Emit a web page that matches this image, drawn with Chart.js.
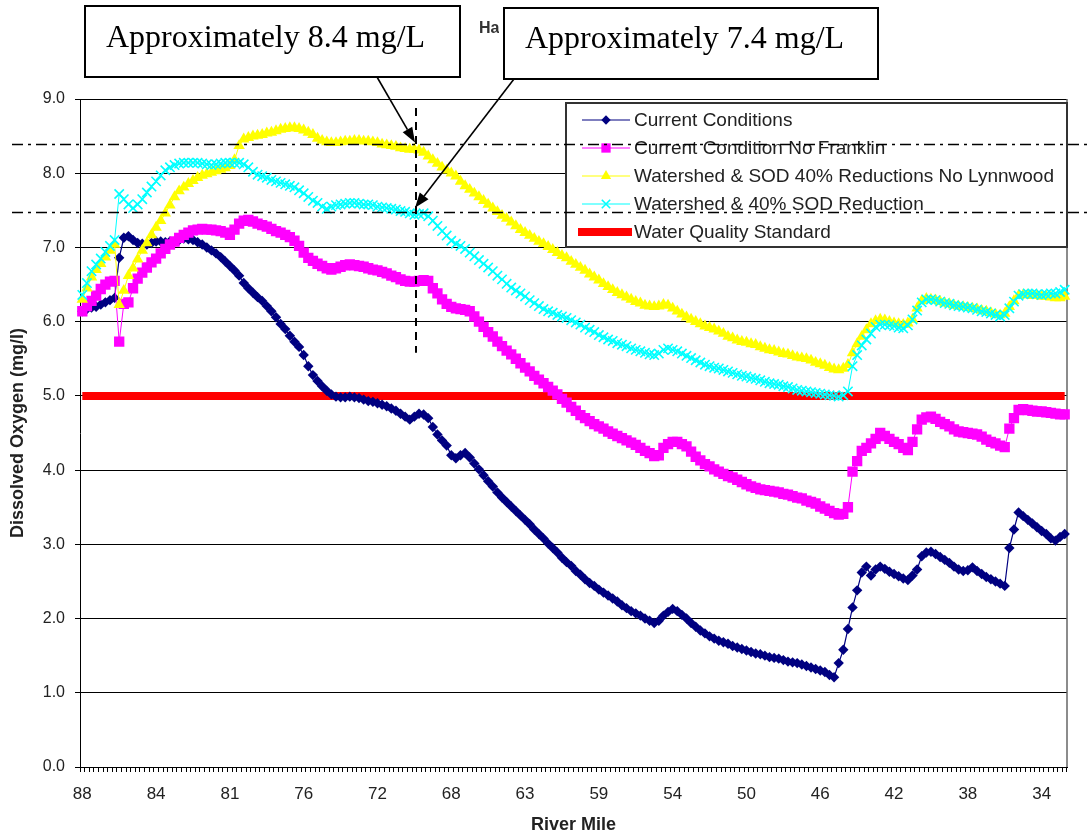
<!DOCTYPE html>
<html>
<head>
<meta charset="utf-8">
<title>Dissolved Oxygen by River Mile</title>
<script src="https://cdn.jsdelivr.net/npm/chart.js@4.4.1/dist/chart.umd.min.js"></script>
<style>
  html, body { margin: 0; padding: 0; background: #fff; }
  #wrap { width: 1091px; height: 837px; }
</style>
</head>
<body>
<div id="wrap"><canvas id="doChart" width="1091" height="837"></canvas></div>
<script>
// river mile labels, one every 16 model segments
const riverMileTicks = ["88", "84", "81", "76", "72", "68", "63", "59", "54", "50", "46", "42", "38", "34"];
const ticksEvery = 16;

// dissolved oxygen (mg/l), one value per segment, rows of 16
const currentConditions = [
  6.14, 6.17, 6.19, 6.20, 6.23, 6.26, 6.29, 6.32, 6.86, 7.13, 7.15, 7.10, 7.06, 7.05, 7.04, 7.06,
  7.08, 7.08, 7.07, 7.08, 7.08, 7.10, 7.12, 7.11, 7.10, 7.07, 7.04, 7.00, 6.96, 6.92, 6.87, 6.81,
  6.75, 6.69, 6.62, 6.52, 6.45, 6.39, 6.33, 6.28, 6.21, 6.14, 6.06, 5.97, 5.90, 5.81, 5.73, 5.66,
  5.55, 5.40, 5.28, 5.20, 5.13, 5.07, 5.02, 4.99, 4.98, 4.98, 4.99, 4.98, 4.97, 4.95, 4.93, 4.92,
  4.90, 4.88, 4.86, 4.83, 4.80, 4.76, 4.72, 4.68, 4.72, 4.76, 4.75, 4.70, 4.58, 4.48, 4.40, 4.33,
  4.20, 4.16, 4.20, 4.23, 4.17, 4.09, 4.01, 3.93, 3.85, 3.78, 3.70, 3.63, 3.57, 3.51, 3.45, 3.39,
  3.33, 3.27, 3.20, 3.14, 3.08, 3.01, 2.95, 2.89, 2.82, 2.76, 2.71, 2.64, 2.59, 2.53, 2.48, 2.44,
  2.39, 2.35, 2.31, 2.27, 2.23, 2.18, 2.14, 2.10, 2.07, 2.04, 2.00, 1.97, 1.94, 1.97, 2.04, 2.09,
  2.13, 2.10, 2.05, 2.00, 1.94, 1.89, 1.84, 1.80, 1.76, 1.73, 1.70, 1.68, 1.66, 1.63, 1.61, 1.59,
  1.57, 1.55, 1.53, 1.52, 1.50, 1.48, 1.47, 1.46, 1.44, 1.42, 1.41, 1.40, 1.38, 1.36, 1.34, 1.32,
  1.30, 1.28, 1.24, 1.21, 1.40, 1.58, 1.86, 2.15, 2.38, 2.62, 2.70, 2.58, 2.66, 2.70, 2.67, 2.63,
  2.60, 2.57, 2.54, 2.52, 2.58, 2.66, 2.84, 2.89, 2.90, 2.87, 2.83, 2.79, 2.75, 2.70, 2.66, 2.64,
  2.65, 2.69, 2.64, 2.60, 2.56, 2.53, 2.50, 2.47, 2.44, 2.95, 3.20, 3.43, 3.38, 3.33, 3.28, 3.23,
  3.18, 3.14, 3.08, 3.05, 3.10, 3.14
];

const noFranklin = [
  6.14, 6.21, 6.28, 6.35, 6.44, 6.50, 6.54, 6.55, 5.73, 6.24, 6.26, 6.45, 6.58, 6.66, 6.73, 6.80,
  6.85, 6.92, 6.98, 7.04, 7.08, 7.13, 7.17, 7.20, 7.23, 7.24, 7.25, 7.24, 7.24, 7.23, 7.22, 7.20,
  7.17, 7.24, 7.32, 7.36, 7.37, 7.35, 7.32, 7.30, 7.28, 7.25, 7.22, 7.20, 7.17, 7.14, 7.09, 7.02,
  6.93, 6.86, 6.82, 6.78, 6.75, 6.72, 6.70, 6.72, 6.74, 6.76, 6.77, 6.76, 6.75, 6.74, 6.72, 6.70,
  6.69, 6.67, 6.65, 6.62, 6.60, 6.57, 6.55, 6.54, 6.54, 6.55, 6.56, 6.55, 6.45, 6.38, 6.30, 6.24,
  6.20, 6.18, 6.17, 6.16, 6.14, 6.07, 6.00, 5.93, 5.86, 5.80, 5.73, 5.67, 5.61, 5.56, 5.50, 5.44,
  5.38, 5.33, 5.27, 5.22, 5.17, 5.12, 5.07, 5.02, 4.96, 4.91, 4.85, 4.80, 4.74, 4.70, 4.66, 4.62,
  4.59, 4.56, 4.52, 4.49, 4.46, 4.43, 4.40, 4.37, 4.34, 4.30, 4.26, 4.23, 4.19, 4.20, 4.30, 4.35,
  4.38, 4.38, 4.35, 4.32, 4.25, 4.18, 4.13, 4.08, 4.05, 4.01, 3.98, 3.95, 3.92, 3.90, 3.87, 3.84,
  3.81, 3.78, 3.76, 3.74, 3.73, 3.72, 3.71, 3.70, 3.68, 3.67, 3.65, 3.63, 3.62, 3.59, 3.57, 3.55,
  3.51, 3.48, 3.45, 3.42, 3.40, 3.41, 3.50, 3.98, 4.12, 4.26, 4.30, 4.36, 4.42, 4.50, 4.46, 4.42,
  4.38, 4.35, 4.30, 4.27, 4.38, 4.55, 4.68, 4.71, 4.72, 4.69, 4.65, 4.62, 4.59, 4.55, 4.52, 4.51,
  4.50, 4.49, 4.48, 4.45, 4.41, 4.38, 4.36, 4.33, 4.31, 4.56, 4.70, 4.81, 4.82, 4.81, 4.80, 4.79,
  4.79, 4.78, 4.77, 4.76, 4.75, 4.75
];

const noLynnwood = [
  6.30, 6.45, 6.60, 6.70, 6.78, 6.87, 6.96, 7.04, 6.23, 6.42, 6.62, 6.72, 6.84, 6.96, 7.06, 7.17,
  7.27, 7.36, 7.46, 7.57, 7.68, 7.76, 7.81, 7.86, 7.90, 7.94, 7.97, 7.99, 8.01, 8.03, 8.05, 8.07,
  8.10, 8.18, 8.37, 8.46, 8.48, 8.50, 8.51, 8.52, 8.54, 8.55, 8.57, 8.59, 8.60, 8.61, 8.61, 8.60,
  8.58, 8.55, 8.52, 8.47, 8.44, 8.42, 8.41, 8.41, 8.42, 8.43, 8.43, 8.44, 8.44, 8.43, 8.43, 8.42,
  8.41, 8.39, 8.38, 8.37, 8.36, 8.34, 8.33, 8.32, 8.32, 8.31, 8.28, 8.23, 8.18, 8.13, 8.08, 8.04,
  8.00, 7.96, 7.89, 7.83, 7.78, 7.73, 7.68, 7.63, 7.58, 7.53, 7.48, 7.43, 7.39, 7.34, 7.29, 7.24,
  7.20, 7.16, 7.12, 7.08, 7.05, 7.01, 6.97, 6.93, 6.89, 6.86, 6.81, 6.77, 6.73, 6.69, 6.64, 6.60,
  6.56, 6.51, 6.47, 6.43, 6.39, 6.36, 6.33, 6.30, 6.27, 6.25, 6.22, 6.21, 6.20, 6.21, 6.23, 6.22,
  6.18, 6.14, 6.10, 6.06, 6.03, 6.00, 5.97, 5.94, 5.92, 5.90, 5.87, 5.84, 5.80, 5.78, 5.75, 5.73,
  5.72, 5.70, 5.69, 5.66, 5.64, 5.62, 5.61, 5.59, 5.57, 5.56, 5.54, 5.52, 5.51, 5.50, 5.48, 5.45,
  5.43, 5.41, 5.38, 5.36, 5.35, 5.37, 5.42, 5.58, 5.70, 5.80, 5.89, 5.97, 6.01, 6.03, 6.02, 6.00,
  5.98, 5.97, 5.96, 5.98, 6.03, 6.18, 6.28, 6.31, 6.30, 6.29, 6.27, 6.25, 6.24, 6.22, 6.21, 6.20,
  6.19, 6.18, 6.17, 6.15, 6.14, 6.12, 6.10, 6.09, 6.11, 6.20, 6.28, 6.35, 6.36, 6.36, 6.35, 6.35,
  6.34, 6.34, 6.33, 6.32, 6.32, 6.34
];

const sodReduction = [
  6.36, 6.52, 6.68, 6.77, 6.85, 6.94, 7.02, 7.10, 7.72, 7.65, 7.58, 7.53, 7.58, 7.65, 7.74, 7.82,
  7.89, 7.97, 8.04, 8.08, 8.11, 8.13, 8.14, 8.14, 8.14, 8.14, 8.13, 8.12, 8.11, 8.12, 8.13, 8.14,
  8.14, 8.14, 8.14, 8.12, 8.08, 8.02, 7.98, 7.96, 7.94, 7.91, 7.89, 7.87, 7.85, 7.83, 7.81, 7.77,
  7.73, 7.68, 7.63, 7.60, 7.55, 7.52, 7.55, 7.57, 7.58, 7.59, 7.60, 7.60, 7.59, 7.58, 7.58, 7.57,
  7.55, 7.54, 7.53, 7.52, 7.51, 7.49, 7.48, 7.46, 7.44, 7.45, 7.46, 7.42, 7.36, 7.29, 7.22, 7.16,
  7.09, 7.05, 7.02, 6.98, 6.93, 6.88, 6.83, 6.78, 6.73, 6.68, 6.62, 6.57, 6.51, 6.46, 6.42, 6.38,
  6.34, 6.29, 6.25, 6.21, 6.17, 6.14, 6.12, 6.09, 6.07, 6.05, 6.02, 5.99, 5.96, 5.92, 5.89, 5.86,
  5.82, 5.79, 5.76, 5.74, 5.71, 5.69, 5.67, 5.64, 5.62, 5.60, 5.58, 5.56, 5.55, 5.57, 5.62, 5.64,
  5.62, 5.60, 5.57, 5.54, 5.51, 5.48, 5.45, 5.42, 5.40, 5.38, 5.37, 5.35, 5.33, 5.31, 5.29, 5.27,
  5.26, 5.24, 5.23, 5.21, 5.19, 5.17, 5.16, 5.15, 5.13, 5.12, 5.10, 5.08, 5.07, 5.06, 5.05, 5.04,
  5.03, 5.02, 5.01, 5.00, 4.99, 5.01, 5.06, 5.40, 5.55, 5.68, 5.76, 5.84, 5.93, 5.96, 5.96, 5.95,
  5.94, 5.92, 5.91, 5.95, 6.03, 6.15, 6.26, 6.30, 6.30, 6.29, 6.27, 6.25, 6.24, 6.22, 6.21, 6.20,
  6.19, 6.18, 6.16, 6.14, 6.13, 6.11, 6.09, 6.07, 6.09, 6.18, 6.27, 6.35, 6.37, 6.38, 6.38, 6.37,
  6.36, 6.37, 6.38, 6.38, 6.40, 6.43
];

const waterQualityStandard = 5.0;

// call-outs pasted on the chart
const calloutLevels = [8.4, 7.48];
const calloutTexts = ["Approximately 8.4 mg/L", "Approximately 7.4 mg/L"];
const calloutSegment = 72.4;
const calloutSpan = [8.88, 5.58];

const categories = currentConditions.map((v, i) => (i % ticksEvery === 0 ? riverMileTicks[i / ticksEvery] : ""));
const standardLine = categories.map(() => waterQualityStandard);

const SANS = '"Liberation Sans", Arial, sans-serif';
const SERIF = '"Liberation Serif", "Times New Roman", serif';
Chart.defaults.font.family = SANS;

function drawLegend(chart) {
  const ctx = chart.ctx;
  const area = chart.chartArea;
  const w = 501, h = 144;
  const left = area.right - w, top = area.top + 4;
  ctx.save();
  ctx.fillStyle = "#fff";
  ctx.fillRect(left, top, w, h);
  ctx.strokeStyle = "#333";
  ctx.lineWidth = 2;
  ctx.strokeRect(left, top, w, h);
  ctx.font = "19px " + SANS;
  ctx.textBaseline = "middle";
  chart.data.datasets.forEach(function (ds, k) {
    const yy = top + 17 + k * 28;
    if (ds.pointRadius === 0) {
      ctx.fillStyle = ds.borderColor;
      ctx.fillRect(left + 12, yy - 4, 54, 8);
    } else {
      ctx.strokeStyle = ds.borderColor;
      ctx.lineWidth = ds.borderWidth;
      ctx.beginPath();
      ctx.moveTo(left + 16, yy);
      ctx.lineTo(left + 64, yy);
      ctx.stroke();
      ctx.fillStyle = ds.pointBackgroundColor;
      ctx.strokeStyle = ds.pointBorderColor;
      ctx.lineWidth = ds.pointBorderWidth;
      Chart.helpers.drawPoint(ctx, {
        pointStyle: ds.pointStyle, radius: ds.pointRadius * 0.9, rotation: 0, borderWidth: ds.pointBorderWidth
      }, left + 40, yy);
    }
    ctx.fillStyle = "#222";
    ctx.fillText(ds.label, left + 68, yy + 1);
  });
  ctx.restore();
}

function arrow(ctx, x0, y0, x1, y1) {
  const a = Math.atan2(y1 - y0, x1 - x0);
  const len = 15, half = 5.5;
  const bx = x1 - Math.cos(a) * len, by = y1 - Math.sin(a) * len;
  ctx.beginPath();
  ctx.moveTo(x0, y0);
  ctx.lineTo(bx, by);
  ctx.stroke();
  ctx.beginPath();
  ctx.moveTo(x1, y1);
  ctx.lineTo(bx + Math.sin(a) * half, by - Math.cos(a) * half);
  ctx.lineTo(bx - Math.sin(a) * half, by + Math.cos(a) * half);
  ctx.closePath();
  ctx.fill();
}

const calloutPlugin = {
  id: "callouts",
  beforeDatasetsDraw(chart) {
    const ctx = chart.ctx, area = chart.chartArea;
    ctx.save();
    ctx.strokeStyle = "#666";
    ctx.lineWidth = 1.5;
    ctx.beginPath();
    ctx.moveTo(area.right, area.top);
    ctx.lineTo(area.right, area.bottom);
    ctx.stroke();
    ctx.restore();
  },
  afterDraw(chart) {
    const ctx = chart.ctx;
    const x = chart.scales.x, y = chart.scales.y;
    drawLegend(chart);

    ctx.save();
    // chart title, mostly hidden under the second call-out
    ctx.save();
    ctx.beginPath();
    ctx.rect(470, 10, 29, 30);
    ctx.clip();
    ctx.fillStyle = "#333";
    ctx.font = "bold 16px " + SANS;
    ctx.textBaseline = "alphabetic";
    ctx.fillText("Harpeth River", 479, 33);
    ctx.restore();

    ctx.strokeStyle = "#000";
    ctx.fillStyle = "#000";

    // dash-dot guide lines
    ctx.lineWidth = 1.5;
    ctx.setLineDash([11, 5, 3, 5]);
    calloutLevels.forEach(function (v) {
      const py = Math.round(y.getPixelForValue(v)) + 0.5;
      ctx.beginPath();
      ctx.moveTo(12, py);
      ctx.lineTo(chart.width, py);
      ctx.stroke();
    });

    // vertical dashed marker
    const mx = Math.round(x.getPixelForValue(calloutSegment));
    ctx.lineWidth = 2;
    ctx.setLineDash([8, 6]);
    ctx.beginPath();
    ctx.moveTo(mx, y.getPixelForValue(calloutSpan[0]));
    ctx.lineTo(mx, y.getPixelForValue(calloutSpan[1]));
    ctx.stroke();
    ctx.setLineDash([]);

    // call-out boxes
    const boxes = [
      { x: 85, y: 6, w: 375, h: 71, tx: 106, ty: 47, ax: 377, ay: 77 },
      { x: 504, y: 8, w: 374, h: 71, tx: 525, ty: 48, ax: 514, ay: 79 }
    ];
    boxes.forEach(function (b, k) {
      ctx.fillStyle = "#fff";
      ctx.fillRect(b.x, b.y, b.w, b.h);
      ctx.lineWidth = 2;
      ctx.strokeStyle = "#000";
      ctx.strokeRect(b.x, b.y, b.w, b.h);
      ctx.fillStyle = "#000";
      ctx.font = "32px " + SERIF;
      ctx.textBaseline = "alphabetic";
      ctx.fillText(calloutTexts[k], b.tx, b.ty);
      ctx.lineWidth = 1.6;
      const tipY = y.getPixelForValue(calloutLevels[k]) - (k === 0 ? 1 : 4);
      arrow(ctx, b.ax, b.ay, mx - 1, tipY);
    });
    ctx.restore();
  }
};

const ctx = document.getElementById("doChart").getContext("2d");
const doChart = new Chart(ctx, {
  type: "line",
  data: {
    labels: categories,
    datasets: [
      {
        label: "Current Conditions",
        data: currentConditions,
        borderColor: "#000080",
        backgroundColor: "#000080",
        borderWidth: 1.2,
        pointStyle: "rectRot",
        pointRadius: 5.2,
        pointBackgroundColor: "#000080",
        pointBorderColor: "#000080",
        pointBorderWidth: 0,
        order: 4,
      },
      {
        label: "Current Condition No Franklin",
        data: noFranklin,
        borderColor: "#FF00FF",
        backgroundColor: "#FF00FF",
        borderWidth: 1,
        pointStyle: "rect",
        pointRadius: 7.3,
        pointBackgroundColor: "#FF00FF",
        pointBorderColor: "#FF00FF",
        pointBorderWidth: 0,
        order: 3,
      },
      {
        label: "Watershed & SOD 40% Reductions No Lynnwood",
        data: noLynnwood,
        borderColor: "#FFFF00",
        backgroundColor: "#FFFF00",
        borderWidth: 1,
        pointStyle: "triangle",
        pointRadius: 6.6,
        pointBackgroundColor: "#FFFF00",
        pointBorderColor: "#FFFF00",
        pointBorderWidth: 0,
        order: 2,
      },
      {
        label: "Watershed & 40% SOD Reduction",
        data: sodReduction,
        borderColor: "#00FFFF",
        backgroundColor: "#00FFFF",
        borderWidth: 1,
        pointStyle: "crossRot",
        pointRadius: 6.6,
        pointBackgroundColor: "#00FFFF",
        pointBorderColor: "#00FFFF",
        pointBorderWidth: 1.6,
        order: 1,
      },
      {
        label: "Water Quality Standard",
        data: standardLine,
        borderColor: "#FF0000",
        backgroundColor: "#FF0000",
        borderWidth: 8,
        pointRadius: 0,
        order: 10,
      },
    ],
  },
  options: {
    responsive: false,
    animation: false,
    devicePixelRatio: 1,
    events: [],
    layout: { padding: { top: 99, right: 24, left: 0, bottom: 0 } },
    plugins: {
      legend: { display: false },
      tooltip: { enabled: false },
    },
    scales: {
      x: {
        type: "category",
        offset: true,
        afterFit: function (scale) { scale.height = 70; },
        grid: { display: true, drawOnChartArea: false, drawTicks: true, tickLength: 5, color: "#000", offset: true },
        border: { display: true, color: "#000", width: 1 },
        ticks: { autoSkip: false, maxRotation: 0, minRotation: 0, padding: 12, color: "#222", font: { size: 17 } },
        title: { display: true, text: "River Mile", color: "#222", font: { size: 18, weight: "bold" }, padding: { top: 0, bottom: 1 } },
      },
      y: {
        min: 0,
        max: 9,
        afterFit: function (scale) { scale.width = 80; },
        ticks: { stepSize: 1, padding: 10, color: "#222", font: { size: 16 }, callback: (v) => Number(v).toFixed(1) },
        grid: { color: "#000", lineWidth: 1, tickLength: 5, drawTicks: true },
        border: { display: true, color: "#000", width: 1 },
        title: { display: true, text: "Dissolved Oxygen (mg/l)", color: "#222", font: { size: 18, weight: "bold" }, padding: { top: 7, bottom: 0 } },
      },
    },
  },
  plugins: [calloutPlugin],
});
</script>
</body>
</html>
